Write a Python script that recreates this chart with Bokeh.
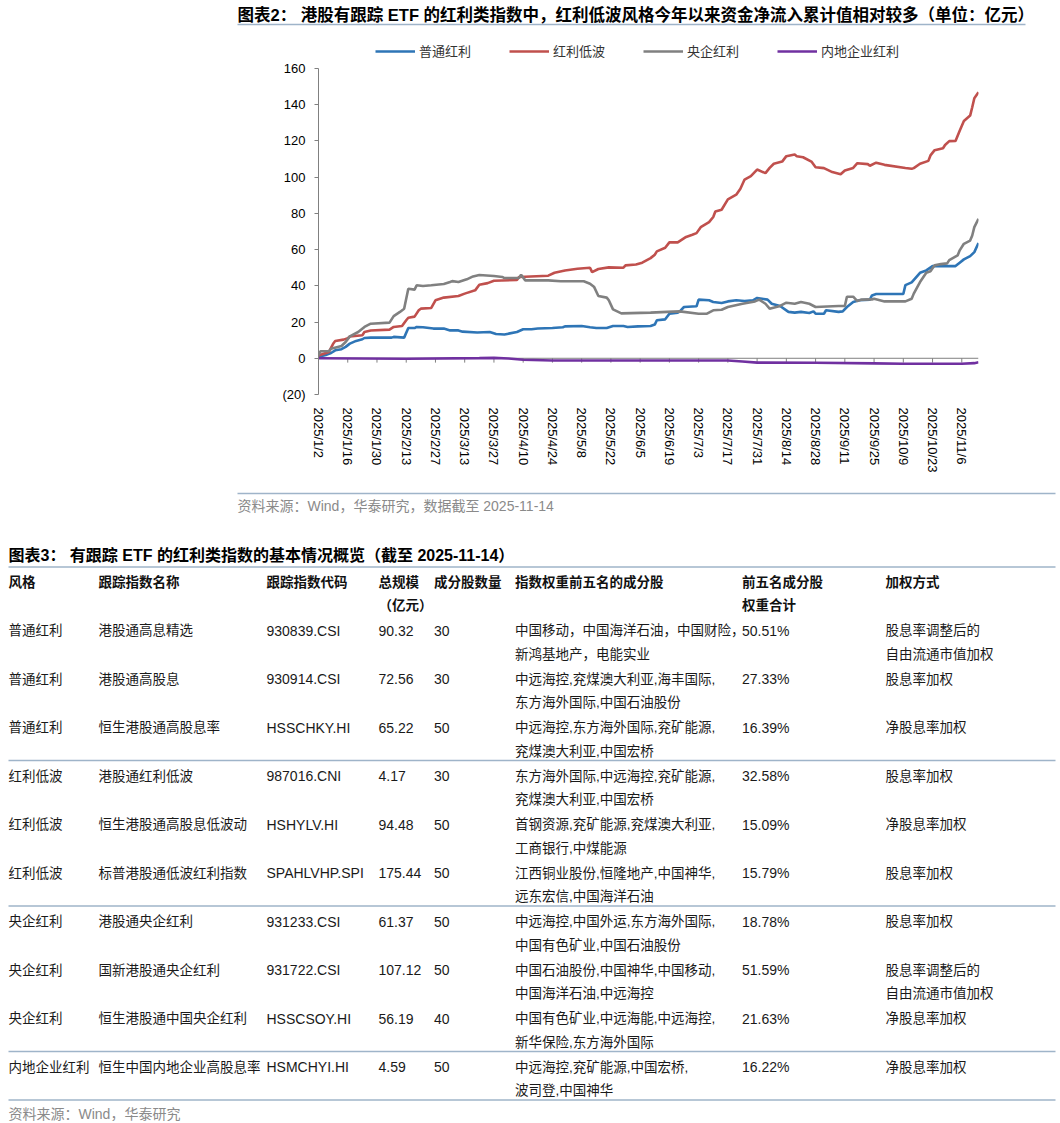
import pandas as pd
from bokeh.plotting import figure
from bokeh.models import (Range1d, FixedTicker, CustomJSTickFormatter, Span, Legend,
                          LegendItem, ColumnDataSource)
from bokeh.layouts import column
from bokeh.embed import file_html
from bokeh.resources import INLINE
from bokeh.core.properties import value

# ---------------- data: chart ----------------
chart_title = "图表2：  港股有跟踪 ETF 的红利类指数中，红利低波风格今年以来资金净流入累计值相对较多（单位：亿元）"
chart_source = "资料来源：Wind，华泰研究，数据截至 2025-11-14"
series_names = ["普通红利", "红利低波", "央企红利", "内地企业红利"]

blue_dates = ["1/2", "1/6", "1/8", "1/10", "1/13", "1/15", "1/17", "1/20", "1/23", "1/24", "1/27",
              "2/6", "2/7", "2/12", "2/14", "2/17", "2/18", "2/21", "2/26", "3/3", "3/6", "3/10",
              "3/12", "3/19", "3/25", "3/28", "4/1", "4/3", "4/7", "4/10", "4/14", "4/17", "4/24",
              "4/29", "4/30", "5/8", "5/12", "5/15", "5/20", "5/23", "5/28", "5/30", "6/4", "6/10",
              "6/12", "6/13", "6/17", "6/19", "6/23", "6/24", "6/26", "7/2", "7/3", "7/8", "7/10",
              "7/14", "7/17", "7/21", "7/25", "7/29", "7/31", "8/5", "8/7", "8/11", "8/15", "8/18",
              "8/21", "8/25", "8/27", "8/28", "9/1", "9/2", "9/8", "9/10", "9/12", "9/15", "9/18",
              "9/23", "9/24", "9/26", "10/9", "10/10", "10/13", "10/17", "10/20", "10/23", "11/3",
              "11/5", "11/7", "11/10", "11/12", "11/14"]
blue_vals = [0.9, 2.0, 2.9, 4.4, 5.0, 6.3, 8.1, 9.6, 10.5, 11.2, 11.4,
             11.4, 11.8, 11.4, 16.7, 16.7, 17.3, 17.1, 16.4, 16.4, 15.4, 15.4,
             14.7, 14.2, 14.5, 13.4, 13.1, 13.6, 14.5, 16.0, 16.0, 16.4, 16.7,
             17.1, 17.6, 17.8, 17.1, 16.7, 16.7, 17.8, 17.8, 17.3, 17.6, 17.8,
             18.6, 21.0, 21.5, 24.6, 25.2, 25.9, 28.3, 28.7, 32.4, 32.0, 31.1,
             30.5, 31.4, 32.0, 31.6, 32.0, 33.3, 32.4, 30.1, 28.9, 25.6, 25.2,
             25.6, 25.0, 25.9, 24.6, 24.6, 26.5, 25.6, 25.9, 28.3, 31.1, 32.0,
             32.4, 34.7, 35.5, 35.5, 40.4, 41.9, 47.2, 48.5, 50.9, 50.9,
             52.8, 54.6, 56.4, 58.6, 63.6]

red_dates = ["1/2", "1/7", "1/9", "1/10", "1/14", "1/16", "1/17", "1/23", "1/24", "1/27", "2/5",
             "2/7", "2/11", "2/13", "2/14", "2/17", "2/19", "2/20", "2/25", "2/27", "3/3", "3/10",
             "3/13", "3/18", "3/20", "3/24", "3/27", "4/7", "4/8", "4/22", "4/25", "4/30", "5/6",
             "5/12", "5/13", "5/16", "5/21", "5/28", "5/29", "6/3", "6/6", "6/10", "6/12", "6/13",
             "6/17", "6/19", "6/23", "6/27", "6/30", "7/2", "7/4", "7/8", "7/10", "7/11", "7/14",
             "7/17", "7/21", "7/23", "7/25", "7/28", "7/31", "8/4", "8/6", "8/8", "8/12", "8/14",
             "8/18", "8/19", "8/22", "8/26", "8/28", "9/1", "9/5", "9/9", "9/11", "9/15", "9/17",
             "9/22", "9/23", "9/26", "9/30", "10/10", "10/13", "10/14", "10/17", "10/21", "10/22",
             "10/24", "10/28", "10/29", "10/31", "11/3", "11/5", "11/7", "11/10", "11/11", "11/12",
             "11/14"]
red_vals = [1.5, 3.5, 8.0, 9.5, 10.3, 11.0, 12.0, 12.7, 14.5, 15.3, 15.8,
            17.3, 17.8, 21.0, 22.4, 23.0, 26.5, 27.4, 27.8, 32.0, 33.5, 34.4,
            35.7, 37.5, 40.6, 41.5, 42.8, 43.2, 44.9, 45.6, 47.2, 48.5, 49.4,
            50.0, 47.6, 49.3, 50.2, 50.0, 51.3, 51.8, 52.8, 55.3, 57.2, 59.0,
            61.0, 64.0, 64.0, 67.0, 68.2, 69.1, 72.4, 75.2, 78.0, 81.0, 82.0,
            87.7, 90.3, 93.6, 98.7, 100.6, 104.2, 102.2, 105.1, 107.4, 108.6, 111.6,
            112.5, 111.6, 111.0, 108.6, 105.5, 105.0, 102.8, 101.6, 103.7, 105.1, 107.7,
            107.2, 106.3, 108.0, 106.8, 105.1, 104.6, 105.0, 107.4, 109.0, 112.0,
            114.9, 116.0, 117.8, 119.9, 120.0, 125.6, 131.0, 134.0, 138.6, 143.6,
            146.9]

gray_dates = ["1/2", "1/3", "1/7", "1/8", "1/13", "1/15", "1/17", "1/21", "1/24", "1/27", "2/5",
              "2/7", "2/10", "2/12", "2/14", "2/17", "2/18", "2/21", "2/25", "3/3", "3/6", "3/7",
              "3/10", "3/14", "3/17", "3/20", "3/27", "3/31", "4/1", "4/8", "4/9", "4/11", "4/22",
              "4/28", "5/9", "5/12", "5/14", "5/16", "5/20", "5/21", "5/23", "5/27", "6/10", "6/18",
              "6/24", "7/3", "7/7", "7/10", "7/14", "7/17", "7/24", "7/30", "8/1", "8/4", "8/6",
              "8/11", "8/14", "8/18", "8/21", "8/25", "8/28", "9/8", "9/11", "9/12", "9/15", "9/17",
              "9/19", "9/24", "9/25", "9/30", "10/10", "10/13", "10/14", "10/17", "10/20", "10/22",
              "10/24", "10/27", "10/30", "10/31", "11/4", "11/5", "11/7", "11/10", "11/11", "11/12",
              "11/14"]
gray_vals = [1.7, 3.9, 3.9, 5.3, 6.8, 9.0, 12.1, 14.5, 17.3, 19.1, 19.7,
             23.3, 25.6, 27.4, 38.4, 37.9, 40.3, 39.9, 40.3, 41.0, 42.1, 42.6,
             42.1, 43.6, 45.2, 46.0, 45.4, 44.9, 44.3, 44.3, 46.1, 43.0, 43.0,
             42.5, 42.5, 41.2, 39.3, 34.4, 33.5, 32.0, 27.0, 24.8, 25.2, 25.6,
             25.9, 24.6, 24.6, 26.5, 26.8, 28.3, 30.1, 31.4, 32.4, 30.1, 27.4,
             28.9, 30.7, 30.1, 31.1, 30.1, 28.3, 28.9, 28.9, 34.0, 34.0, 31.6,
             32.4, 32.5, 32.9, 31.4, 31.4, 32.9, 35.7, 42.1, 47.2, 48.0,
             51.3, 52.0, 52.4, 54.2, 56.8, 59.6, 63.2, 65.0, 67.8, 72.4,
             77.0]

purple_dates = ["1/2", "2/13", "3/20", "3/27", "4/3", "4/10", "4/24", "7/17", "7/24", "7/31",
                "8/28", "9/25", "10/9", "11/6", "11/12", "11/14"]
purple_vals = [0.0, -0.3, 0.1, 0.2, -0.1, -0.8, -1.2, -1.2, -1.8, -2.4,
               -2.5, -2.8, -3.0, -3.0, -2.7, -2.2]

x_tick_dates = ["1/2", "1/16", "1/30", "2/13", "2/27", "3/13", "3/27", "4/10", "4/24", "5/8",
                "5/22", "6/5", "6/19", "7/3", "7/17", "7/31", "8/14", "8/28", "9/11", "9/25",
                "10/9", "10/23", "11/6"]
y_ticks = [-20, 0, 20, 40, 60, 80, 100, 120, 140, 160]

# ---------------- data: table ----------------
table_title = "图表3：  有跟踪 ETF 的红利类指数的基本情况概览（截至 2025-11-14）"
table_source = "资料来源：Wind，华泰研究"
header_line1 = ["风格", "跟踪指数名称", "跟踪指数代码", "总规模", "成分股数量",
                "指数权重前五名的成分股", "前五名成分股", "加权方式"]
header_line2 = ["", "", "", "（亿元）", "", "", "权重合计", ""]
styles = ["普通红利", "普通红利", "普通红利", "红利低波", "红利低波", "红利低波",
          "央企红利", "央企红利", "央企红利", "内地企业红利"]
index_names = ["港股通高息精选", "港股通高股息", "恒生港股通高股息率", "港股通红利低波",
               "恒生港股通高股息低波动", "标普港股通低波红利指数", "港股通央企红利",
               "国新港股通央企红利", "恒生港股通中国央企红利", "恒生中国内地企业高股息率"]
index_codes = ["930839.CSI", "930914.CSI", "HSSCHKY.HI", "987016.CNI", "HSHYLV.HI",
               "SPAHLVHP.SPI", "931233.CSI", "931722.CSI", "HSSCSOY.HI", "HSMCHYI.HI"]
total_sizes = ["90.32", "72.56", "65.22", "4.17", "94.48", "175.44", "61.37", "107.12", "56.19", "4.59"]
n_constituents = ["30", "30", "50", "30", "50", "50", "50", "50", "40", "50"]
top5_line1 = ["中国移动，中国海洋石油，中国财险，", "中远海控,兖煤澳大利亚,海丰国际,",
              "中远海控,东方海外国际,兖矿能源,", "东方海外国际,中远海控,兖矿能源,",
              "首钢资源,兖矿能源,兖煤澳大利亚,", "江西铜业股份,恒隆地产,中国神华,",
              "中远海控,中国外运,东方海外国际,", "中国石油股份,中国神华,中国移动,",
              "中国有色矿业,中远海能,中远海控,", "中远海控,兖矿能源,中国宏桥,"]
top5_line2 = ["新鸿基地产，电能实业", "东方海外国际,中国石油股份", "兖煤澳大利亚,中国宏桥",
              "兖煤澳大利亚,中国宏桥", "工商银行,中煤能源", "远东宏信,中国海洋石油",
              "中国有色矿业,中国石油股份", "中国海洋石油,中远海控", "新华保险,东方海外国际",
              "波司登,中国神华"]
top5_weight = ["50.51%", "27.33%", "16.39%", "32.58%", "15.09%", "15.79%",
               "18.78%", "51.59%", "21.63%", "16.22%"]
method_line1 = ["股息率调整后的", "股息率加权", "净股息率加权", "股息率加权", "净股息率加权",
                "股息率加权", "股息率加权", "股息率调整后的", "净股息率加权", "净股息率加权"]
method_line2 = ["自由流通市值加权", "", "", "", "", "", "", "自由流通市值加权", "", ""]
group_ends = [3, 6, 9, 10]

# ---------------- styling / layout ----------------
W = 1058
FONT = "Liberation Sans, Noto Sans CJK SC"
RULE = "#9FB4C9"
COLORS = ["#2E75B6", "#C0504D", "#808080", "#7030A0"]

HEAD_H = 30          # page y 0..30
CH_H = 450           # page y 30..480
BOT_H = 641          # page y 480..1121
FRAME_L, FRAME_R = 318, 978
FRAME_TOP, AXIS_TOP, AXIS_BOT = 40, 68, 394   # page y of frame top, value 160, value -20


def md(lst):
    return pd.to_datetime(["2025/" + s for s in lst], format="%Y/%m/%d")


def canvas(h):
    p = figure(width=W, height=h, x_range=Range1d(0, W), y_range=Range1d(h, 0),
               output_backend="svg", toolbar_location=None, min_border=0,
               x_axis_type=None, y_axis_type=None, outline_line_color=None)
    p.frame_align = False
    return p


# ---------------- head ----------------
head = canvas(HEAD_H)
head.text(x=[237], y=[14], text=[chart_title], text_font=value(FONT), text_font_size="16.5px",
          text_font_style="bold", text_color="#000000", text_baseline="middle", text_align="left")
head.segment(x0=[237], y0=[24], x1=[1025], y1=[24], line_color=RULE, line_width=1.5)

# ---------------- chart ----------------
px_per_unit = (AXIS_BOT - AXIS_TOP) / (y_ticks[-1] - y_ticks[0])
y_top = y_ticks[-1] + (AXIS_TOP - FRAME_TOP) / px_per_unit
chart = figure(width=W, height=CH_H, x_axis_type="datetime",
               x_range=Range1d(pd.Timestamp("2025-01-02"), pd.Timestamp("2025-11-14")),
               y_range=Range1d(y_ticks[0], y_top), output_backend="svg", toolbar_location=None,
               min_border_left=FRAME_L, min_border_right=W - FRAME_R,
               min_border_top=FRAME_TOP - HEAD_H, min_border_bottom=HEAD_H + CH_H - AXIS_BOT,
               outline_line_color=None)
chart.frame_align = False
chart.grid.visible = False

chart.add_layout(Span(location=0, dimension="width", line_color="#808080", line_width=1,
                      level="underlay"))
tick_ms = [int(pd.Timestamp("2025/" + s).value // 10**6) for s in x_tick_dates]
chart.segment(x0=tick_ms[1:], y0=[0] * (len(tick_ms) - 1), x1=tick_ms[1:],
              y1=[-2.4] * (len(tick_ms) - 1), line_color="#808080", line_width=1)

all_series = [(blue_dates, blue_vals), (red_dates, red_vals), (gray_dates, gray_vals),
              (purple_dates, purple_vals)]
renderers = []
for (d, v), c in zip(all_series, COLORS):
    src = ColumnDataSource(dict(x=md(d), y=v))
    renderers.append(chart.line("x", "y", source=src, line_color=c, line_width=2.6))

legend = Legend(items=[LegendItem(label=n, renderers=[r]) for n, r in zip(series_names, renderers)],
                orientation="horizontal", location=(375 - FRAME_L, AXIS_BOT - 52 - 8),
                label_text_font=FONT,
                label_text_font_size="13px", label_text_color="#333333", glyph_width=40,
                glyph_height=16, label_height=16, label_standoff=4, spacing=38, padding=0,
                margin=0, border_line_color=None, background_fill_alpha=0)
chart.add_layout(legend)

xa = chart.xaxis[0]
xa.ticker = FixedTicker(ticks=tick_ms)
xa.formatter = CustomJSTickFormatter(code="""
const d = new Date(tick);
return d.getUTCFullYear() + '/' + (d.getUTCMonth() + 1) + '/' + d.getUTCDate();
""")
xa.axis_line_color = None
xa.major_tick_line_color = None
xa.minor_tick_line_color = None
xa.major_label_orientation = "vertical"
xa.major_label_standoff = 7
xa.major_label_text_font = "Liberation Sans"
xa.major_label_text_font_size = "13px"
xa.major_label_text_color = "#000000"

ya = chart.yaxis[0]
ya.ticker = FixedTicker(ticks=y_ticks)
ya.bounds = (y_ticks[0], y_ticks[-1])
ya.formatter = CustomJSTickFormatter(code="return tick < 0 ? '(' + Math.abs(tick) + ')' : String(tick);")
ya.axis_line_color = "#808080"
ya.major_tick_line_color = "#808080"
ya.major_tick_out = 4
ya.major_tick_in = 0
ya.minor_tick_line_color = None
ya.major_label_standoff = 9
ya.major_label_text_font = "Liberation Sans"
ya.major_label_text_font_size = "13px"
ya.major_label_text_color = "#000000"

# ---------------- bottom: source + table ----------------
OFF = HEAD_H + CH_H   # page y of bottom canvas top
bot = canvas(BOT_H)
col_x = [8, 98, 266, 378, 433.5, 514.5, 741.5, 885]
HEAD1_Y, HEAD2_Y = 581.5 - OFF, 605 - OFF
ROW0_Y, ROW_STEP, LINE2_DY = 630 - OFF, 48.5, 23.5

# rules
rx0, ry0, rx1, ry1 = [237, 8], [493 - OFF, 566.5 - OFF], [1055, 1055], [493 - OFF, 566.5 - OFF]
for k in group_ends:
    yy = ROW0_Y + ROW_STEP * k - 15.5
    rx0.append(8); rx1.append(1055); ry0.append(yy); ry1.append(yy)
bot.segment(x0=rx0, y0=ry0, x1=rx1, y1=ry1, line_color=RULE, line_width=1.5)

# titles & sources
bot.text(x=[237], y=[505 - OFF], text=[chart_source], text_font=value(FONT), text_font_size="14px",
         text_color="#8a8a8a", text_baseline="middle", text_align="left")
bot.text(x=[8], y=[555 - OFF], text=[table_title], text_font=value(FONT), text_font_size="16px",
         text_font_style="bold", text_color="#000000", text_baseline="middle", text_align="left")
bot.text(x=[8], y=[1113 - OFF], text=[table_source], text_font=value(FONT), text_font_size="14px",
         text_color="#8a8a8a", text_baseline="middle", text_align="left")

# header
hx, hy, ht = [], [], []
for i, (a, b) in enumerate(zip(header_line1, header_line2)):
    hx.append(col_x[i]); hy.append(HEAD1_Y); ht.append(a)
    if b:
        hx.append(col_x[i]); hy.append(HEAD2_Y); ht.append(b)
bot.text(x="x", y="y", text="t", source=ColumnDataSource(dict(x=hx, y=hy, t=ht)),
         text_font=value(FONT), text_font_size="13.5px", text_font_style="bold",
         text_color="#111111", text_baseline="middle", text_align="left")

# body
bx, by, bt, bs = [], [], [], []
for r in range(len(styles)):
    y1 = ROW0_Y + ROW_STEP * r
    y2 = y1 + LINE2_DY
    cells = [(0, y1, styles[r], "13.5px"), (1, y1, index_names[r], "13.5px"),
             (2, y1, index_codes[r], "14px"), (3, y1, total_sizes[r], "14px"),
             (4, y1, n_constituents[r], "14px"), (5, y1, top5_line1[r], "13.5px"),
             (5, y2, top5_line2[r], "13.5px"), (6, y1, top5_weight[r], "14px"),
             (7, y1, method_line1[r], "13.5px"), (7, y2, method_line2[r], "13.5px")]
    for ci, yy, t, s in cells:
        if t:
            bx.append(col_x[ci]); by.append(yy); bt.append(t); bs.append(s)
bot.text(x="x", y="y", text="t", text_font_size="s",
         source=ColumnDataSource(dict(x=bx, y=by, t=bt, s=bs)),
         text_font=value(FONT), text_color="#1a1a1a", text_baseline="middle", text_align="left")

layout = column(head, chart, bot, spacing=0)
open("out.html", "w").write(file_html(layout, INLINE))
